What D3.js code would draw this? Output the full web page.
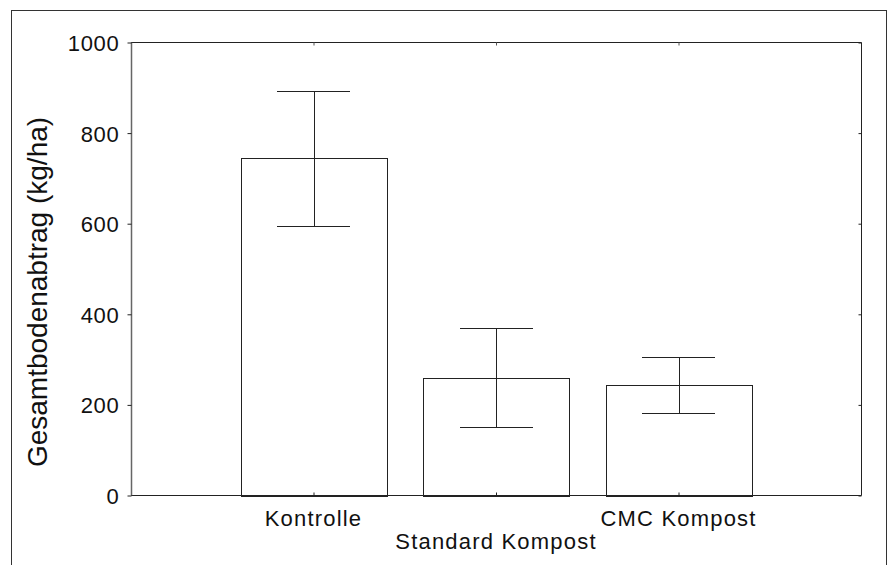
<!DOCTYPE html>
<html><head><meta charset="utf-8">
<script src="https://cdn.jsdelivr.net/npm/d3@7"></script>
<style>body{margin:0;background:#fff}svg{display:block}</style>
</head><body>
<script>
const categories = ["Kontrolle", "Standard Kompost", "CMC Kompost"];
const means = [744, 260, 244];
const errors = [148, 109, 62];
const yTicks = [0, 200, 400, 600, 800, 1000];
const yLabel = "Gesamtbodenabtrag (kg/ha)";

const W = 888, H = 565;
const svg = d3.select("body").append("svg").attr("width", W).attr("height", H);
const L = 131, R = 861, T = 42.5, B = 495.5;
const font = "'Liberation Sans', Arial, sans-serif";

// outer frame
svg.append("rect").attr("x", 11.5).attr("y", 10.5).attr("width", 875).attr("height", 600)
  .attr("fill", "none").attr("stroke", "#333").attr("stroke-width", 1);

const x = d3.scaleLinear().domain([0, categories.length + 1]).range([L, R]);
const y = d3.scaleLinear().domain([0, 1000]).range([B, T]);
const pos = categories.map((c, i) => i + 1);
const bw = 0.8, cw = 0.4;

// bars
svg.selectAll("rect.bar").data(means).join("rect").attr("class", "bar")
  .attr("x", (d, i) => Math.round(x(pos[i] - bw / 2)) + 0.5)
  .attr("y", d => Math.round(y(d)) + 0.5)
  .attr("width", (d, i) => Math.round(x(pos[i] + bw / 2)) - Math.round(x(pos[i] - bw / 2)))
  .attr("height", d => Math.round(y(0)) - Math.round(y(d)))
  .attr("fill", "#fff").attr("stroke", "#222").attr("stroke-width", 1);

// error bars
const eg = svg.append("g").attr("stroke", "#222").attr("stroke-width", 1).attr("fill", "none");
means.forEach((m, i) => {
  const cx = Math.round(x(pos[i])) + 0.5;
  const yt = Math.round(y(m + errors[i])) + 0.5, yb = Math.round(y(m - errors[i])) + 0.5;
  const x0 = Math.round(x(pos[i] - cw / 2)), x1 = Math.round(x(pos[i] + cw / 2));
  eg.append("line").attr("x1", cx).attr("x2", cx).attr("y1", yt).attr("y2", yb);
  eg.append("line").attr("x1", x0).attr("x2", x1).attr("y1", yt).attr("y2", yt);
  eg.append("line").attr("x1", x0).attr("x2", x1).attr("y1", yb).attr("y2", yb);
});

// frame of plot
const fr = svg.append("g").attr("stroke", "#222").attr("stroke-width", 1).attr("fill", "none");
fr.append("line").attr("x1", L).attr("x2", R + 0.5).attr("y1", T).attr("y2", T);
fr.append("line").attr("x1", R + 0.5).attr("x2", R + 0.5).attr("y1", T).attr("y2", B);
fr.append("line").attr("x1", L).attr("x2", R + 0.5).attr("y1", B).attr("y2", B);
fr.append("line").attr("x1", L + 0.5).attr("x2", L + 0.5).attr("y1", T).attr("y2", B).attr("stroke", "#666").attr("stroke-width", 1.5);

// left axis
const yl = svg.append("g").attr("transform", `translate(${L + 0.5},0)`)
  .call(d3.axisLeft(y).tickValues(yTicks).tickSize(4).tickPadding(8).tickFormat(d3.format("d")));
yl.select(".domain").remove();
yl.selectAll("line").attr("stroke", "#222");
yl.selectAll("text").attr("font-family", font).attr("font-size", 22).attr("fill", "#111")
  .attr("letter-spacing", "0.7px").attr("dy", "0.36em");

// right axis ticks (inward)
const yr = svg.append("g").attr("transform", `translate(${R + 0.5},0)`)
  .call(d3.axisRight(y).tickValues(yTicks).tickSize(-3).tickFormat(""));
yr.select(".domain").remove();
yr.selectAll("line").attr("stroke", "#222");

// bottom ticks (inward) & top ticks (inward)
const xb = svg.append("g").attr("transform", `translate(0,${B})`)
  .call(d3.axisBottom(x).tickValues(pos).tickSize(-3).tickFormat(""));
xb.select(".domain").remove();
xb.selectAll("line").attr("stroke", "#222");
const xt = svg.append("g").attr("transform", `translate(0,${T})`)
  .call(d3.axisTop(x).tickValues(pos).tickSize(-3).tickFormat(""));
xt.select(".domain").remove();
xt.selectAll("line").attr("stroke", "#555");

// category labels (staggered)
svg.selectAll("text.cat").data(categories).join("text").attr("class", "cat")
  .attr("x", (d, i) => x(pos[i]))
  .attr("y", (d, i) => i % 2 === 0 ? 525.5 : 549)
  .attr("text-anchor", "middle").attr("font-family", font).attr("font-size", 22)
  .attr("letter-spacing", "1.2px").attr("fill", "#111").text(d => d);

// y label
svg.append("text").attr("transform", "translate(46.5,292) rotate(-90)")
  .attr("text-anchor", "middle").attr("font-family", font).attr("font-size", 28)
  .attr("fill", "#111").text(yLabel);
</script>
</body></html>
